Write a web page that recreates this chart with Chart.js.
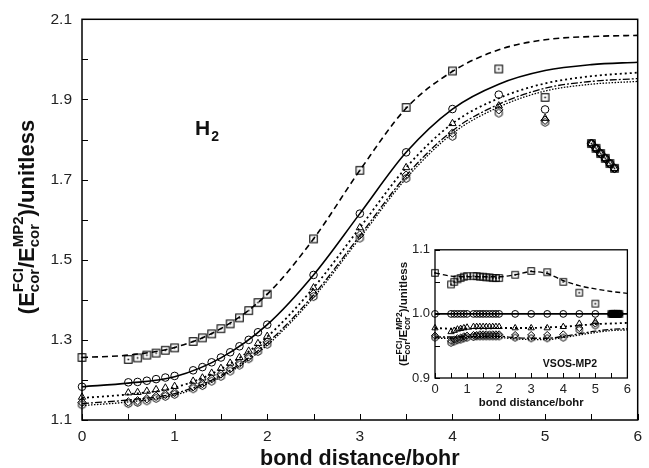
<!DOCTYPE html>
<html><head><meta charset="utf-8">
<script src="https://cdn.jsdelivr.net/npm/chart.js@4.4.0/dist/chart.umd.min.js"></script>
<style>
html,body{margin:0;padding:0;background:#fff;}
#wrap{position:relative;width:649px;height:468px;overflow:hidden;}
#main{position:absolute;left:0;top:0;}
#inset{position:absolute;left:385px;top:237px;}
</style></head><body>
<div id="wrap">
<canvas id="main" width="649" height="468"></canvas>
<canvas id="inset" width="250" height="175"></canvas>
</div>
<script>
// ---------- data ----------
const pointX = [0,0.5,0.6,0.7,0.8,0.9,1.0,1.2,1.3,1.4,1.5,1.6,1.7,1.8,1.9,2.0,2.5,3.0,3.5,4.0,4.5,5.0,5.5,5.55,5.6,5.65,5.7,5.75];
const mainSquares   = [1.256,1.251,1.255,1.262,1.267,1.274,1.280,1.296,1.305,1.315,1.328,1.340,1.355,1.373,1.393,1.414,1.552,1.723,1.880,1.971,1.976,1.905,1.790,1.778,1.765,1.753,1.740,1.728];
const mainCircles   = [1.183,1.194,1.195,1.198,1.202,1.206,1.210,1.224,1.232,1.244,1.256,1.269,1.284,1.300,1.319,1.338,1.462,1.615,1.768,1.876,1.912,1.875,1.790,1.778,1.765,1.753,1.740,1.728];
const mainTriangles = [1.157,1.168,1.169,1.172,1.176,1.180,1.184,1.197,1.205,1.217,1.229,1.242,1.256,1.272,1.291,1.309,1.430,1.580,1.730,1.840,1.884,1.853,1.790,1.778,1.765,1.753,1.740,1.728];
const mainDiamonds  = [1.144,1.145,1.148,1.153,1.159,1.164,1.169,1.183,1.191,1.203,1.215,1.228,1.242,1.258,1.277,1.295,1.415,1.562,1.711,1.816,1.874,1.848,1.790,1.778,1.765,1.753,1.740,1.728];
const mainHexagons  = [1.138,1.141,1.144,1.148,1.154,1.159,1.164,1.178,1.186,1.197,1.209,1.222,1.237,1.253,1.271,1.289,1.408,1.554,1.703,1.808,1.866,1.843,1.790,1.778,1.765,1.753,1.740,1.728];

const curveX = [0,0.5,1,1.5,2,2.5,3,3.5,4,4.5,5,5.5,6];
const mainCurveDashed     = [1.256,1.262,1.281,1.328,1.414,1.552,1.723,1.878,1.970,2.024,2.049,2.057,2.060];
const mainCurveSolid      = [1.183,1.192,1.208,1.255,1.338,1.462,1.615,1.768,1.876,1.938,1.972,1.987,1.993];
const mainCurveDotted     = [1.155,1.164,1.181,1.227,1.308,1.430,1.580,1.730,1.840,1.903,1.940,1.958,1.967];
const mainCurveDashDot    = [1.141,1.150,1.166,1.211,1.292,1.412,1.560,1.710,1.822,1.888,1.928,1.945,1.952];
const mainCurveDashDotDot = [1.136,1.145,1.162,1.207,1.287,1.406,1.554,1.703,1.815,1.881,1.921,1.938,1.945];

const insetSquares   = [1.064,1.046,1.050,1.054,1.056,1.058,1.059,1.059,1.059,1.058,1.058,1.057,1.057,1.056,1.056,1.056,1.061,1.067,1.065,1.050,1.033,1.016,1,1,1,1,1,1];
const insetCircles   = [1,1,1,1,1,1,1,1,1,1,1,1,1,1,1,1,1,1,1,1,1,1,1,1,1,1,1,1];
const insetTriangles = [0.978,0.972,0.974,0.976,0.977,0.978,0.979,0.980,0.980,0.980,0.980,0.980,0.980,0.980,0.980,0.980,0.978,0.978,0.978,0.980,0.985,0.988,1,1,1,1,1,1];
const insetDiamonds  = [0.966,0.958,0.960,0.962,0.963,0.965,0.966,0.967,0.967,0.968,0.968,0.968,0.968,0.968,0.968,0.968,0.967,0.967,0.967,0.968,0.978,0.985,1,1,1,1,1,1];
const insetHexagons  = [0.963,0.955,0.957,0.959,0.960,0.962,0.963,0.964,0.965,0.965,0.965,0.965,0.965,0.965,0.965,0.965,0.963,0.962,0.962,0.963,0.975,0.982,1,1,1,1,1,1];

const insetCurveDashed     = [1.064,1.059,1.058,1.058,1.058,1.061,1.066,1.063,1.052,1.044,1.039,1.035,1.032];
const insetCurveSolid      = [1,1,1,1,1,1,1,1,1,1,1,1,1];
const insetCurveDotted     = [0.978,0.977,0.977,0.977,0.978,0.978,0.978,0.979,0.980,0.982,0.984,0.985,0.986];
const insetCurveDashDot    = [0.964,0.964,0.965,0.965,0.965,0.963,0.962,0.962,0.965,0.969,0.973,0.976,0.977];
const insetCurveDashDotDot = [0.962,0.962,0.963,0.963,0.963,0.961,0.960,0.960,0.963,0.967,0.971,0.974,0.975];

const mainXTicks = [0,1,2,3,4,5,6];
const mainXMinor = [0.5,1.5,2.5,3.5,4.5,5.5];
const mainYTicks = [1.1,1.3,1.5,1.7,1.9,2.1];
const mainYMinor = [1.2,1.4,1.6,1.8,2.0];
const insetXTicks = [0,1,2,3,4,5,6];
const insetXMinor = [0.5,1.5,2.5,3.5,4.5,5.5];
const insetYTicks = [0.9,1.0,1.1];
const insetYMinor = [0.95,1.05];

const xTitle = 'bond distance/bohr';
const moleculeLabel = 'H';
const moleculeSub = '2';
const insetLabel = 'VSOS-MP2';

// ---------- helpers ----------
const FAM = '"Liberation Sans", Arial, Helvetica, sans-serif';
const pts = (xs, ys) => xs.map((x, i) => ({x, y: ys[i]}));

function squareDot(side, lw) {
  const s = Math.ceil(side + lw + 2);
  const c = document.createElement('canvas'); c.width = s; c.height = s;
  const g = c.getContext('2d');
  g.strokeStyle = '#000'; g.lineWidth = lw;
  const o = (s - side) / 2;
  g.strokeRect(o, o, side, side);
  g.fillStyle = '#000'; g.fillRect(s/2 - 0.8, s/2 - 0.8, 1.6, 1.6);
  return c;
}
function hexagon(r, lw) {
  const s = Math.ceil(2*r + lw + 2);
  const c = document.createElement('canvas'); c.width = s; c.height = s;
  const g = c.getContext('2d');
  g.strokeStyle = '#000'; g.lineWidth = lw;
  g.beginPath();
  for (let i = 0; i < 6; i++) {
    const a = -Math.PI/2 + i*Math.PI/3;
    const px = s/2 + r*Math.cos(a), py = s/2 + r*Math.sin(a);
    i ? g.lineTo(px, py) : g.moveTo(px, py);
  }
  g.closePath(); g.stroke();
  return c;
}

function richWidth(ctx, parts) {
  let w = 0;
  parts.forEach(p => {
    ctx.font = `bold ${p.size}px ${FAM}`;
    if (p.t !== undefined) w += ctx.measureText(p.t).width;
    else w += Math.max(ctx.measureText(p.sup).width, ctx.measureText(p.sub).width);
  });
  return w;
}
function drawRich(ctx, x0, parts) {
  let x = x0;
  parts.forEach(p => {
    ctx.font = `bold ${p.size}px ${FAM}`;
    if (p.t !== undefined) { ctx.fillText(p.t, x, 0); x += ctx.measureText(p.t).width; }
    else {
      ctx.fillText(p.sup, x, -p.up);
      ctx.fillText(p.sub, x, p.down);
      x += Math.max(ctx.measureText(p.sup).width, ctx.measureText(p.sub).width);
    }
  });
}
function yTitleParts(big, small, up, down) {
  return [
    {t: '(E', size: big},
    {sup: 'FCI', sub: 'cor', size: small, up, down},
    {t: '/E', size: big},
    {sup: 'MP2', sub: 'cor', size: small, up, down},
    {t: ')/unitless', size: big}
  ];
}

const frameTicks = {
  id: 'frameTicks',
  afterDatasetsDraw(chart, args, o) {
    const {ctx, chartArea: a, scales: {x, y}} = chart;
    ctx.save();
    ctx.strokeStyle = '#000';
    ctx.lineWidth = o.tickWidth;
    ctx.beginPath();
    o.xMajor.concat(o.xMinor).forEach(v => {
      const px = Math.round(x.getPixelForValue(v)) + 0.5;
      ctx.moveTo(px, a.bottom); ctx.lineTo(px, a.bottom - o.len);
    });
    o.yMajor.concat(o.yMinor).forEach(v => {
      const py = Math.round(y.getPixelForValue(v)) + 0.5;
      ctx.moveTo(a.left, py); ctx.lineTo(a.left + o.len, py);
    });
    ctx.stroke();
    ctx.lineWidth = o.frameWidth;
    ctx.strokeRect(a.left, a.top, a.right - a.left, a.bottom - a.top);
    ctx.restore();
  }
};

const mainText = {
  id: 'mainText',
  afterDraw(chart) {
    const {ctx, chartArea: a} = chart;
    ctx.save();
    ctx.fillStyle = '#111';
    ctx.textBaseline = 'alphabetic';
    // x title
    ctx.font = `bold 21.5px ${FAM}`;
    ctx.textAlign = 'center';
    ctx.fillText(xTitle, (a.left + a.right) / 2, 465);
    // H2 label
    ctx.textAlign = 'left';
    ctx.font = `bold 21px ${FAM}`;
    ctx.fillText(moleculeLabel, 195, 135);
    const hw = ctx.measureText(moleculeLabel).width;
    ctx.font = `bold 14px ${FAM}`;
    ctx.fillText(moleculeSub, 195 + hw + 1, 141);
    // y title
    const parts = yTitleParts(22, 15, 11, 5);
    const w = richWidth(ctx, parts);
    ctx.translate(34, 217);
    ctx.rotate(-Math.PI / 2);
    drawRich(ctx, -w / 2, parts);
    ctx.restore();
  }
};

const insetText = {
  id: 'insetText',
  afterDraw(chart) {
    const {ctx, chartArea: a} = chart;
    ctx.save();
    ctx.fillStyle = '#111';
    ctx.textBaseline = 'alphabetic';
    ctx.font = `bold 11.3px ${FAM}`;
    ctx.textAlign = 'center';
    ctx.fillText(xTitle, (a.left + a.right) / 2, 169);
    ctx.font = `bold 10.5px ${FAM}`;
    ctx.fillText(insetLabel, 185, 130);
    ctx.textAlign = 'left';
    const parts = yTitleParts(11.5, 8.5, 5.5, 3);
    const w = richWidth(ctx, parts);
    ctx.translate(22, (a.top + a.bottom) / 2);
    ctx.rotate(-Math.PI / 2);
    drawRich(ctx, -w / 2, parts);
    ctx.restore();
  }
};

function curve(data, dash, width) {
  return {data, borderColor: '#000', borderWidth: width, borderDash: dash, pointRadius: 0,
          showLine: true, fill: false, cubicInterpolationMode: 'monotone', clip: false};
}
function marks(data, style, radius, bw) {
  return {data, showLine: false, pointStyle: style, pointRadius: radius, pointHoverRadius: radius,
          pointBorderColor: '#000', pointBackgroundColor: 'rgba(0,0,0,0)', pointBorderWidth: bw, clip: false};
}

function axisOpts(min, max, ticksArr, fontSize, pad, dec, fitKey, fitVal) {
  return {
    type: 'linear', min, max,
    grid: {display: false, drawTicks: false},
    border: {display: false},
    afterBuildTicks: s => { s.ticks = ticksArr.map(v => ({value: v})); },
    afterFit: s => { s[fitKey] = fitVal; },
    ticks: {
      color: '#222', padding: pad, autoSkip: false, maxRotation: 0,
      font: {family: FAM, size: fontSize},
      callback: v => dec ? Number(v).toFixed(dec) : String(v)
    }
  };
}

Chart.defaults.animation = false;

new Chart(document.getElementById('main'), {
  type: 'line',
  data: {datasets: [
    curve(pts(curveX, mainCurveDashed), [6, 4], 1.6),
    curve(pts(curveX, mainCurveSolid), [], 1.6),
    curve(pts(curveX, mainCurveDotted), [2, 3], 1.8),
    curve(pts(curveX, mainCurveDashDot), [7, 2, 2, 2], 1.3),
    curve(pts(curveX, mainCurveDashDotDot), [1.5, 1.5], 1.3),
    marks(pts(pointX, mainHexagons), hexagon(4, 1), 4, 1),
    marks(pts(pointX, mainDiamonds), 'rectRot', 4.2, 1),
    marks(pts(pointX, mainTriangles), 'triangle', 4.2, 1),
    marks(pts(pointX, mainCircles), 'circle', 3.8, 1),
    marks(pts(pointX, mainSquares), squareDot(7.5, 1.1), 4, 1)
  ]},
  options: {
    responsive: false, animation: false, devicePixelRatio: 1,
    layout: {padding: {left: 0, right: 4, top: 17, bottom: 0}},
    plugins: {legend: {display: false}, tooltip: {enabled: false},
      frameTicks: {xMajor: mainXTicks, xMinor: mainXMinor, yMajor: mainYTicks, yMinor: mainYMinor,
                   len: 6, tickWidth: 1, frameWidth: 1.5}},
    scales: {
      x: axisOpts(0, 6, mainXTicks, 15.5, 7, 0, 'height', 48),
      y: axisOpts(1.1, 2.1, mainYTicks, 15.5, 10, 1, 'width', 82)
    }
  },
  plugins: [frameTicks, mainText]
});

new Chart(document.getElementById('inset'), {
  type: 'line',
  data: {datasets: [
    curve(pts(curveX, insetCurveDashed), [5, 3], 1.4),
    curve(pts(curveX, insetCurveSolid), [], 1.8),
    curve(pts(curveX, insetCurveDotted), [2, 3], 1.8),
    curve(pts(curveX, insetCurveDashDot), [6, 2, 2, 2], 1.3),
    curve(pts(curveX, insetCurveDashDotDot), [1.5, 1.5], 1.3),
    marks(pts(pointX, insetHexagons), hexagon(3.5, 1), 3.5, 1),
    marks(pts(pointX, insetDiamonds), 'rectRot', 3.6, 1),
    marks(pts(pointX, insetTriangles), 'triangle', 3.6, 1),
    marks(pts(pointX, insetCircles), 'circle', 3.4, 1),
    marks(pts(pointX, insetSquares), squareDot(6.5, 1), 3.5, 1)
  ]},
  options: {
    responsive: false, animation: false, devicePixelRatio: 1,
    layout: {padding: {left: 0, right: 7, top: 10, bottom: 0}},
    plugins: {legend: {display: false}, tooltip: {enabled: false},
      frameTicks: {xMajor: insetXTicks, xMinor: insetXMinor, yMajor: insetYTicks, yMinor: insetYMinor,
                   len: 5, tickWidth: 1, frameWidth: 1.3}},
    scales: {
      x: axisOpts(0, 6, insetXTicks, 13, 4, 0, 'height', 34),
      y: axisOpts(0.9, 1.1, insetYTicks, 13, 5, 1, 'width', 50)
    }
  },
  plugins: [frameTicks, insetText]
});
</script>
</body></html>
